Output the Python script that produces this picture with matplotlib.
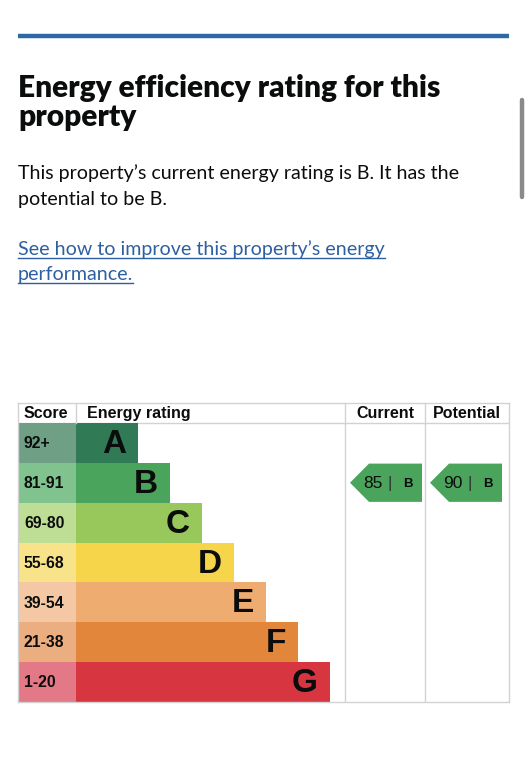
import matplotlib
matplotlib.use('Agg')
import matplotlib.pyplot as plt
from matplotlib.patches import Polygon

W, H = 528, 768

# chart data
bands = ['A', 'B', 'C', 'D', 'E', 'F', 'G']
score_ranges = ['92+', '81-91', '69-80', '55-68', '39-54', '21-38', '1-20']
band_min = [92, 81, 69, 55, 39, 21, 1]
band_colors = ['#317a56', '#4aa45c', '#98c85b', '#f6d54a', '#efac71', '#e2863b', '#d7353f']
score_colors = ['#6fa085', '#80c38e', '#bedd95', '#f8e38b', '#f4c8a4', '#eaae80', '#e37886']
current_score = 85
potential_score = 90

title_lines = ['Energy efficiency rating for this', 'property']
body_lines = ['This property\u2019s current energy rating is B. It has the',
              'potential to be B.']
link_lines = ['See how to improve this property\u2019s energy', 'performance.']

headers = ['Score', 'Energy rating', 'Current', 'Potential']

TXT = '#0b0c0c'
LINK = '#2d5fa3'
GRID = '#d2d2d2'
SANS = ['Liberation Sans', 'DejaVu Sans']
PAGE = ['Lato', 'DejaVu Sans']


def band_index(score):
    for i, m in enumerate(band_min):
        if score >= m:
            return i
    return len(band_min) - 1


fig = plt.figure(figsize=(W / 100, H / 100), dpi=100)
bg = fig.add_axes([0, 0, 1, 1])
bg.set_xlim(0, W)
bg.set_ylim(H, 0)
bg.axis('off')

# top rule and scrollbar
bg.plot([18, 509], [36, 36], color='#2f68a6', lw=3.2, solid_capstyle='butt')
bg.plot([521.5, 521.5], [100, 197], color='#8a8a8a', lw=3.2, solid_capstyle='round')

for k, line in enumerate(title_lines):
    bg.text(18, 97 + k * 29, line, fontsize=21.5, weight='heavy', family=PAGE,
            color=TXT, va='baseline')
for k, line in enumerate(body_lines):
    bg.text(18, 179 + k * 26, line, fontsize=14.1, family=PAGE, color=TXT, va='baseline')
link_texts = []
for k, line in enumerate(link_lines):
    t = bg.text(18, 255 + k * 25, line, fontsize=14.1, family=PAGE, color=LINK, va='baseline')
    link_texts.append((t, 255 + k * 25))

# underline the link
fig.canvas.draw()
r = fig.canvas.get_renderer()
for t, yb in link_texts:
    bb = t.get_window_extent(renderer=r)
    bg.plot([bb.x0, bb.x1], [yb + 3, yb + 3], color=LINK, lw=1.0)

# EPC table
tab = fig.add_axes([18 / W, (H - 702) / H, 491 / W, 299 / H])
tab.set_xlim(0, 491)
tab.set_ylim(6.5, -1.0)
tab.set_xticks([])
tab.set_yticks([])
for s in tab.spines.values():
    s.set_color(GRID)
    s.set_linewidth(1.0)

rows = list(range(len(bands)))
score_w = 58
lengths = [62 + 32 * i for i in rows]
tab.barh(rows, score_w, left=0, height=1.0, color=score_colors, zorder=2)
tab.barh(rows, lengths, left=score_w, height=1.0, color=band_colors, zorder=2)

for i in rows:
    tab.text(6, i + 0.02, score_ranges[i], fontsize=11.3, weight='bold', family=SANS,
             color=TXT, va='center', ha='left', zorder=3)
    tab.text(score_w + lengths[i] - 12, i + 0.04, bands[i], fontsize=24, weight='bold',
             family=SANS, color=TXT, va='center', ha='right', zorder=3)

col_cur = (327, 407)
col_pot = (407, 491)
tab.axhline(-0.5, color=GRID, lw=1.0, zorder=1)
tab.plot([score_w, score_w], [-1.0, -0.5], color=GRID, lw=1.0)
for x in (col_cur[0], col_pot[0]):
    tab.axvline(x, color=GRID, lw=1.0, zorder=1)

hy = -0.74
tab.text(6, hy, headers[0], fontsize=11.5, weight='bold', family=SANS, color=TXT, va='center')
tab.text(69, hy, headers[1], fontsize=11.5, weight='bold', family=SANS, color=TXT, va='center')
tab.text(sum(col_cur) / 2, hy, headers[2], fontsize=11.5, weight='bold', family=SANS,
         color=TXT, va='center', ha='center')
tab.text(sum(col_pot) / 2, hy, headers[3], fontsize=11.5, weight='bold', family=SANS,
         color=TXT, va='center', ha='center')


def rating_arrow(col, score):
    i = band_index(score)
    left = col[0]
    tip, body, right = left + 5, left + 24, left + 77
    top, bot = i - 0.48, i + 0.48
    poly = Polygon([(tip, i), (body, top), (right, top), (right, bot), (body, bot)],
                   closed=True, facecolor=band_colors[i], edgecolor='none', zorder=2)
    tab.add_patch(poly)
    tab.text(left + 18, i + 0.02, str(score), fontsize=12.5, family=SANS, color=TXT,
             va='center', ha='left', zorder=3)
    tab.text(left + 45, i + 0.02, '|', fontsize=12.5, family=SANS, color='#333333',
             va='center', ha='center', zorder=3)
    tab.text(left + 62.5, i + 0.04, bands[i], fontsize=9.5, weight='bold', family=SANS,
             color=TXT, va='center', ha='center', zorder=3)


rating_arrow(col_cur, current_score)
rating_arrow(col_pot, potential_score)

fig.savefig('out.png', dpi=100)
